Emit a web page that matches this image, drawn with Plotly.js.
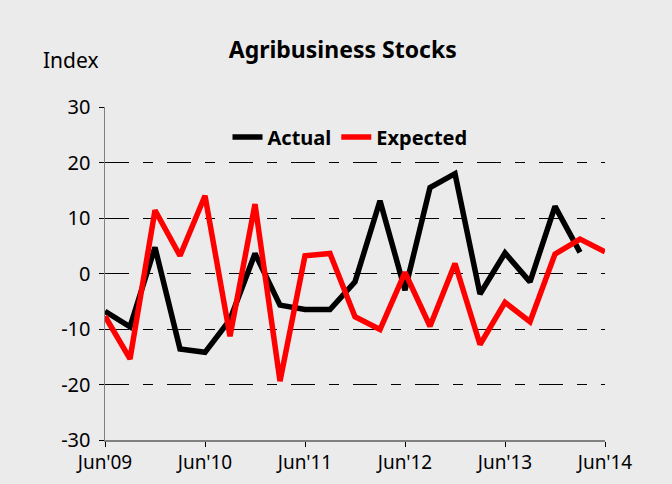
<!DOCTYPE html>
<html>
<head>
<meta charset="utf-8">
<script src="https://cdn.plot.ly/plotly-3.0.1.min.js"></script>
<style>html,body{margin:0;padding:0;background:#ebebeb;}#chart{width:672px;height:484px;}</style>
</head>
<body>
<div id="chart"></div>
<script>
// Quarterly periods, Jun'09 .. Jun'14
const quarters = ["Jun'09","Sep'09","Dec'09","Mar'10","Jun'10","Sep'10","Dec'10","Mar'11","Jun'11","Sep'11","Dec'11","Mar'12","Jun'12","Sep'12","Dec'12","Mar'13","Jun'13","Sep'13","Dec'13","Mar'14","Jun'14"];
const actual = [-6.8,-9.6,4.7,-13.6,-14.2,-8.3,3.6,-5.7,-6.5,-6.5,-1.5,13.1,-3.0,15.5,18.0,-3.7,3.7,-1.5,12.1,3.8];
const expected = [-7.7,-15.4,11.4,3.2,14.0,-11.3,12.5,-19.4,3.2,3.6,-7.8,-10.1,0.2,-9.5,1.8,-12.8,-5.2,-8.7,3.5,6.2,3.9];
const tickLabels = ["Jun'09","Jun'10","Jun'11","Jun'12","Jun'13","Jun'14"];
const yTicks = [-30,-20,-10,0,10,20,30];
const yTickText = ["-30","-20","-10","0","10","20","30"];

const xIdx = quarters.map((q,i)=>i);
const tickVals = tickLabels.map(t=>quarters.indexOf(t));

const font = "'Noto Sans', 'DejaVu Sans', sans-serif";
const traces = [
  {x: xIdx.slice(0, actual.length), y: actual, name: "Actual", mode: "lines",
   line: {color: "#000000", width: 5.5}},
  {x: xIdx.slice(0, expected.length), y: expected, name: "Expected", mode: "lines",
   line: {color: "#ff0000", width: 5.5}}
];
const layout = {
  width: 672, height: 484,
  paper_bgcolor: "#ebebeb", plot_bgcolor: "#ebebeb",
  margin: {l: 105, r: 67, t: 107, b: 44},
  font: {family: font, size: 20, color: "#000"},
  title: {text: "<b>Agribusiness Stocks</b>", x: 0.51, xref: "container", xanchor: "center",
          y: 1 - 50/484, yref: "container", yanchor: "middle",
          font: {family: font, size: 23, color: "#000"}},
  showlegend: true,
  legend: {orientation: "h", x: 0.49, xanchor: "center", y: 0.91, yanchor: "middle",
           bgcolor: "rgba(0,0,0,0)", font: {family: font, size: 20, color: "#000", weight: "bold"},
           traceorder: "normal"},
  xaxis: {range: [0, 20], tickvals: tickVals, ticktext: tickLabels, showgrid: false, zeroline: false,
          showline: true, linecolor: "#808080", linewidth: 1.5, ticks: "outside", ticklen: 5,
          tickcolor: "#000", tickwidth: 1, fixedrange: true,
          tickfont: {family: font, size: 19, color: "#000"}},
  yaxis: {range: [-30, 30], tickvals: yTicks, ticktext: yTickText, showgrid: true, gridcolor: "#000", gridwidth: 1,
          griddash: "24px,14px,10px,14px", zeroline: false,
          showline: true, linecolor: "#808080", linewidth: 1.5, ticks: "outside", ticklen: 5,
          tickcolor: "#000", tickwidth: 1, fixedrange: true, ticklabelstandoff: 4,
          tickfont: {family: font, size: 20, color: "#000"}},
  annotations: [{text: "Index", xref: "paper", yref: "paper", x: (41-105)/500, y: (440-60)/333,
                 xanchor: "left", yanchor: "middle", showarrow: false,
                 font: {family: font, size: 21, color: "#000"}}]
};
Plotly.newPlot("chart", traces, layout, {displayModeBar: false, staticPlot: true});
</script>
</body>
</html>
